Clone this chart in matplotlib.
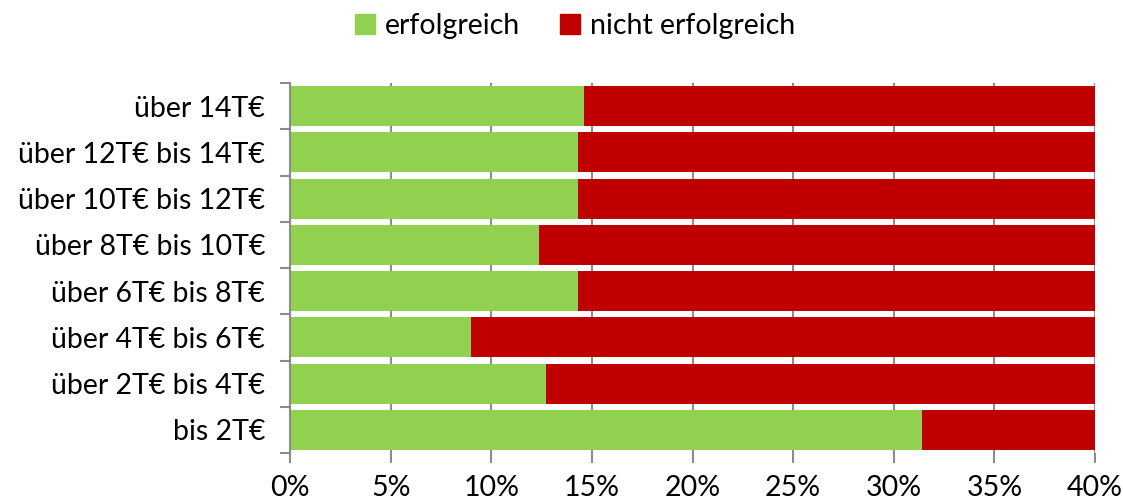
import numpy as np
import matplotlib.pyplot as plt
from matplotlib.patches import Patch

plt.rcParams['font.family'] = ['Lato', 'DejaVu Sans']

kategorien = ["bis 2T€", "über 2T€ bis 4T€", "über 4T€ bis 6T€", "über 6T€ bis 8T€",
              "über 8T€ bis 10T€", "über 10T€ bis 12T€", "über 12T€ bis 14T€", "über 14T€"]
erfolgreich = [31.4, 12.7, 9.0, 14.3, 12.35, 14.3, 14.3, 14.6]
nicht_erfolgreich = [100 - v for v in erfolgreich]

gruen = "#92D050"
rot = "#C00000"
fs = 20.5

fig = plt.figure(figsize=(11.23, 5.01), dpi=100)
ax = fig.add_axes([290 / 1123, 48 / 501, 805 / 1123, 370 / 501])

y = np.arange(len(kategorien))
ax.barh(y, erfolgreich, height=0.86, color=gruen, zorder=2)
ax.barh(y, nicht_erfolgreich, left=erfolgreich, height=0.86, color=rot, zorder=2)

ax.set_xlim(0, 40)
ax.set_ylim(-0.5, len(kategorien) - 0.5)
ax.set_xticks(np.arange(0, 41, 5))
ax.set_xticklabels([f"{v}%" for v in range(0, 41, 5)])
ax.set_yticks(y)
ax.set_yticklabels(kategorien)
ax.set_yticks(np.arange(-0.5, len(kategorien)), minor=True)
ax.tick_params(axis="y", which="major", length=0, pad=18, labelsize=fs)
ax.tick_params(axis="y", which="minor", length=7, width=1.5, color="#8c8c8c")
ax.tick_params(axis="x", length=7, width=1.5, color="#8c8c8c", labelsize=fs, pad=9)
ax.grid(axis="x", color="#8c8c8c", linewidth=1.5, zorder=0)

for side in ["top", "right", "bottom"]:
    ax.spines[side].set_visible(False)
ax.spines["left"].set_color("#8c8c8c")
ax.spines["left"].set_linewidth(1.5)

handles = [Patch(color=gruen, label="erfolgreich"), Patch(color=rot, label="nicht erfolgreich")]
fig.legend(handles=handles, loc="center", bbox_to_anchor=(0.512, 0.948), ncol=2, frameon=False,
           fontsize=fs, handlelength=0.7, handleheight=0.7, handletextpad=0.35, columnspacing=1.4)

fig.savefig("out.png", dpi=100)
